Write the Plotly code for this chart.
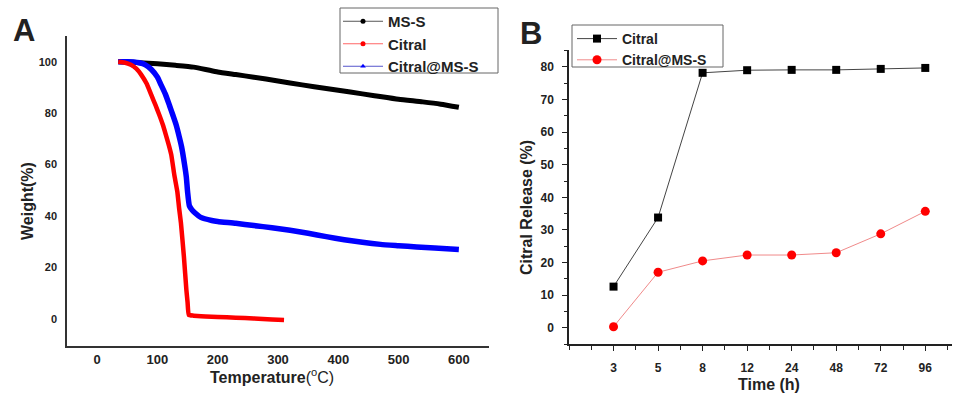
import plotly.graph_objects as go

# ---------------- Panel A data (TGA) ----------------
ms_s_temp = [35, 50, 70, 100, 130, 160, 180, 200, 230, 260, 300, 340, 380, 420, 460, 500, 540, 570, 600]
ms_s_weight = [100, 99.9, 99.6, 99.2, 98.6, 97.9, 97.0, 96.0, 95.0, 94.0, 92.5, 91.0, 89.6, 88.2, 86.8, 85.4, 84.4, 83.5, 82.3]

citral_temp = [35, 45, 56, 65, 73, 82, 90, 97, 103, 109, 114, 119, 123, 128, 133, 136, 139, 144, 148, 150, 152, 160, 180, 200, 230, 260, 290, 310]
citral_weight = [100, 99.7, 98.8, 97.3, 95, 91.5, 87, 83, 79.4, 75.5, 71.6, 67.5, 63.8, 56, 49.5, 43, 37.3, 24, 11.3, 6.5, 1.6, 1.3, 1.0, 0.8, 0.5, 0.2, -0.2, -0.4]

citral_ms_temp = [35, 50, 60, 70, 80, 90, 100, 106, 113, 120, 126, 131, 136, 140, 145, 148, 150, 153, 157, 162, 172, 190, 200, 230, 260, 290, 320, 350, 380, 410, 440, 470, 500, 530, 560, 600]
citral_ms_weight = [100, 100, 99.9, 99.6, 98.8, 97, 94, 91, 87.5, 83, 79, 75.5, 71, 67, 60, 55, 49.5, 44, 42.5, 41.3, 39.5, 38.3, 37.9, 37.2, 36.3, 35.5, 34.5, 33.3, 32, 30.8, 29.8, 29.0, 28.5, 28.0, 27.6, 27.0]

tga_x_ticks = [0, 100, 200, 300, 400, 500, 600]
tga_y_ticks = [0, 20, 40, 60, 80, 100]

# ---------------- Panel B data (release) ----------------
time_labels = ["3", "5", "8", "12", "24", "48", "72", "96"]
citral_release = [12.6, 33.8, 78.2, 79.0, 79.1, 79.1, 79.4, 79.7]
citral_ms_release = [0.3, 17.0, 20.5, 22.3, 22.3, 23.0, 28.8, 35.7]
release_y_ticks = [0, 10, 20, 30, 40, 50, 60, 70, 80]

FONT = "Liberation Sans, Arial, sans-serif"
TXT = "#222222"
W, H = 960, 393

fig = go.Figure()

# Panel A curves (thick dense-marker look)
fig.add_trace(go.Scatter(x=ms_s_temp, y=ms_s_weight, mode="lines",
                         line=dict(color="black", width=5, shape="spline", smoothing=0.5),
                         showlegend=False, xaxis="x", yaxis="y"))
fig.add_trace(go.Scatter(x=citral_ms_temp, y=citral_ms_weight, mode="lines",
                         line=dict(color="#0000ff", width=5.5, shape="spline", smoothing=0.5),
                         showlegend=False, xaxis="x", yaxis="y"))
fig.add_trace(go.Scatter(x=citral_temp, y=citral_weight, mode="lines",
                         line=dict(color="#ff0000", width=4.5, shape="spline", smoothing=0.4),
                         showlegend=False, xaxis="x", yaxis="y"))

# Panel A legend proxies
fig.add_trace(go.Scatter(x=[None], y=[None], mode="lines+markers", name="MS-S",
                         line=dict(color="#555555", width=1),
                         marker=dict(color="black", size=5, symbol="circle"),
                         legend="legend", xaxis="x", yaxis="y"))
fig.add_trace(go.Scatter(x=[None], y=[None], mode="lines+markers", name="Citral",
                         line=dict(color="#ff6666", width=1),
                         marker=dict(color="#ff0000", size=5, symbol="circle"),
                         legend="legend", xaxis="x", yaxis="y"))
fig.add_trace(go.Scatter(x=[None], y=[None], mode="lines+markers", name="Citral@MS-S",
                         line=dict(color="#5555cc", width=1),
                         marker=dict(color="#0000ff", size=5, symbol="triangle-up"),
                         legend="legend", xaxis="x", yaxis="y"))

# Panel B
idx = list(range(len(time_labels)))
fig.add_trace(go.Scatter(x=idx, y=citral_release, mode="lines+markers", name="Citral",
                         line=dict(color="#444444", width=1),
                         marker=dict(color="black", size=8, symbol="square"),
                         legend="legend2", xaxis="x2", yaxis="y2"))
fig.add_trace(go.Scatter(x=idx, y=citral_ms_release, mode="lines+markers", name="Citral@MS-S",
                         line=dict(color="#f08a8a", width=1),
                         marker=dict(color="#ff0000", size=9, symbol="circle"),
                         legend="legend2", xaxis="x2", yaxis="y2"))


def px_x(p):
    return p / W


def px_y(p):
    return 1 - p / H


def title_ann(text, x, y, size, angle=0):
    return dict(text=text, x=px_x(x), y=px_y(y), xref="paper", yref="paper",
                xanchor="center", yanchor="middle", showarrow=False, textangle=angle,
                font=dict(size=size, family=FONT, color=TXT))


fig.update_layout(
    width=W, height=H,
    margin=dict(l=0, r=0, t=0, b=0, autoexpand=False),
    paper_bgcolor="white", plot_bgcolor="white",
    font=dict(family=FONT, color=TXT, size=13),
    xaxis=dict(domain=[px_x(67), px_x(489)], range=[-50, 650], anchor="y", automargin=False,
               tickvals=tga_x_ticks, ticktext=[f"<b>{v}</b>" for v in tga_x_ticks],
               showgrid=False, zeroline=False, showline=True, linecolor="#333333", linewidth=1.5,
               ticks="", ticklabelstandoff=1, tickfont=dict(size=13)),
    yaxis=dict(domain=[px_y(346), px_y(36)], range=[-10.5, 110], anchor="x", automargin=False,
               tickvals=tga_y_ticks, ticktext=[f"<b>{v}</b>" for v in tga_y_ticks],
               showgrid=False, zeroline=False, showline=True, linecolor="#333333", linewidth=1.5,
               ticks="", ticklabelstandoff=6, tickfont=dict(size=11)),
    xaxis2=dict(domain=[px_x(569), px_x(952)], range=[-1, 7.6], anchor="y2", automargin=False,
                tickvals=idx, ticktext=[f"<b>{t}</b>" for t in time_labels],
                showgrid=False, zeroline=False, showline=True, linecolor="#222222", linewidth=1.5,
                ticks="outside", ticklen=5, tickwidth=1.2, tickcolor="#222222",
                minor=dict(tickvals=[i + 0.5 for i in range(-1, len(time_labels))] + [-1],
                           ticks="outside", ticklen=4, tickwidth=1.2, tickcolor="#222222"),
                ticklabelstandoff=7, tickfont=dict(size=12)),
    yaxis2=dict(domain=[px_y(344), px_y(50)], range=[-5, 85.2], anchor="x2", automargin=False,
                tickvals=release_y_ticks, ticktext=[f"<b>{v}</b>" for v in release_y_ticks],
                showgrid=False, zeroline=False, showline=True, linecolor="#222222", linewidth=1.5,
                ticks="outside", ticklen=5, tickwidth=1.2, tickcolor="#222222",
                minor=dict(dtick=5, tick0=-5, ticks="outside", ticklen=3, tickwidth=1.2, tickcolor="#222222"),
                ticklabelstandoff=6, tickfont=dict(size=12)),
    legend=dict(x=px_x(338), y=px_y(5), xanchor="left", yanchor="top",
                bgcolor="rgba(0,0,0,0)", borderwidth=0,
                font=dict(size=15, family=FONT, color=TXT), tracegroupgap=0,
                itemwidth=40),
    legend2=dict(x=px_x(572), y=px_y(23), xanchor="left", yanchor="top",
                 bgcolor="rgba(0,0,0,0)", borderwidth=0,
                 font=dict(size=14, family=FONT, color=TXT), tracegroupgap=0,
                 itemwidth=40),
    shapes=[
        dict(type="rect", xref="paper", yref="paper",
             x0=px_x(340), x1=px_x(498), y0=px_y(73), y1=px_y(8),
             line=dict(color="#666666", width=1), fillcolor="white", layer="above"),
        dict(type="rect", xref="paper", yref="paper",
             x0=px_x(572), x1=px_x(723), y0=px_y(67), y1=px_y(25),
             line=dict(color="#666666", width=1), fillcolor="white", layer="above"),
    ],
    annotations=[
        title_ann("<b>A</b>", 24, 31, 31),
        title_ann("<b>B</b>", 531, 33, 31),
        title_ann("<b>Temperature</b>(<sup>o</sup>C)", 272, 376, 16),
        title_ann("<b>Weight(%)</b>", 28, 201, 16, -90),
        title_ann("<b>Time (h)</b>", 769, 384, 16),
        title_ann("<b>Citral Release (%)</b>", 527, 208, 16, -90),
    ],
)

# bold legend text
for tr in fig.data:
    if tr.name:
        tr.name = f"<b>{tr.name}</b>"

fig.write_html(
    "out.html",
    config={"displayModeBar": False},
    post_script="document.body.style.margin='0';document.body.style.padding='0';"
                "document.body.style.overflow='hidden';",
)
